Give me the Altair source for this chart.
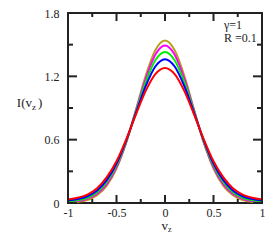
import altair as alt
import pandas as pd

# Values (curves are symmetric about v_z = 0)
v_half = [0.0, 0.1, 0.2, 0.3, 0.4, 0.5, 0.6, 0.7, 0.8, 0.9, 1.0]
red_half = [1.28, 1.221, 1.060, 0.838, 0.603, 0.395, 0.245, 0.140, 0.080, 0.050, 0.034]
blue_half = [1.363, 1.293, 1.105, 0.852, 0.593, 0.373, 0.219, 0.119, 0.064, 0.037, 0.024]
green_half = [1.431, 1.352, 1.142, 0.864, 0.584, 0.356, 0.199, 0.102, 0.050, 0.027, 0.016]
magenta_half = [1.491, 1.404, 1.175, 0.874, 0.577, 0.340, 0.180, 0.087, 0.039, 0.018, 0.009]
olive_half = [1.54, 1.447, 1.202, 0.882, 0.571, 0.327, 0.165, 0.074, 0.029, 0.010, 0.003]

series = [
    ("olive", olive_half, "#b3a219"),
    ("magenta", magenta_half, "#ff00ff"),
    ("green", green_half, "#00ee00"),
    ("blue", blue_half, "#0000ff"),
    ("red", red_half, "#ff0000"),
]

x_ticks_major = [-1, -0.5, 0, 0.5, 1]
x_ticks_minor = [-0.75, -0.25, 0.25, 0.75]
y_ticks_major = [0, 0.6, 1.2, 1.8]
y_ticks_minor = [0.3, 0.9, 1.5]

W, H = 194, 190
FONT = "Liberation Serif"

xs = alt.Scale(domain=[-1, 1], nice=False, zero=False)
ys = alt.Scale(domain=[0, 1.8], nice=False)
xaxis = alt.Axis(values=x_ticks_major, labelExpr="toString(datum.value)", title=None,
                 ticks=False, domain=False, grid=False, labelFont=FONT, labelFontSize=12,
                 labelColor="#222", labelPadding=4, labelFlush=False)
yaxis = alt.Axis(values=y_ticks_major, labelExpr="toString(datum.value)", title=None,
                 ticks=False, domain=False, grid=False, labelFont=FONT, labelFontSize=12,
                 labelColor="#222", labelPadding=9, labelFlush=False)


def full(vals):
    v = [-x for x in reversed(v_half[1:])] + v_half
    y = list(reversed(vals[1:])) + vals
    return pd.DataFrame({"v": v, "I": y})


layers = []
for name, vals, col in series:
    layers.append(
        alt.Chart(full(vals)).mark_line(color=col, strokeWidth=2, interpolate="monotone").encode(
            x=alt.X("v:Q", scale=xs, axis=xaxis),
            y=alt.Y("I:Q", scale=ys, axis=yaxis),
        )
    )

def xt(vals, y0, y1):
    return alt.Chart(pd.DataFrame({"t": vals})).mark_rule(color="#222", strokeWidth=2).encode(
        x=alt.X("t:Q", scale=xs, axis=xaxis), y=alt.value(y0), y2=alt.value(y1))

def yt(vals, x0, x1):
    return alt.Chart(pd.DataFrame({"t": vals})).mark_rule(color="#222", strokeWidth=2).encode(
        y=alt.Y("t:Q", scale=ys, axis=yaxis), x=alt.value(x0), x2=alt.value(x1))

layers += [
    xt(x_ticks_major, H, H - 8), xt(x_ticks_minor, H, H - 4),
    xt(x_ticks_major, 0, 8), xt(x_ticks_minor, 0, 4),
    yt(y_ticks_major, 0, 9), yt(y_ticks_minor, 0, 5),
    yt(y_ticks_major, W, W - 9), yt(y_ticks_minor, W, W - 5),
]

def txt(s, x, y, size=12, align="left"):
    return alt.Chart(pd.DataFrame({"s": [s]})).mark_text(
        font=FONT, fontSize=size, align=align, baseline="middle", color="#222"
    ).encode(text="s:N", x=alt.value(x), y=alt.value(y))

layers += [
    txt("γ=1", 156, 12),
    txt("R =0.1", 156, 25),
    txt("v", 100, 213, 13, "right"),
    txt("z", 100, 217, 8),
    txt("I(v", -36, 90, 13, "right"),
    txt("z", -36, 94, 9),
    txt(")", -30, 90, 13),
]

chart = alt.layer(*layers).properties(
    width=W, height=H,
    autosize=alt.AutoSizeParams(type="none"),
    padding={"left": 60, "top": 5, "right": 3, "bottom": 30},
).configure_view(stroke="#222", strokeWidth=2)

chart.save("out.html", embed_options={"renderer": "svg", "actions": False})
